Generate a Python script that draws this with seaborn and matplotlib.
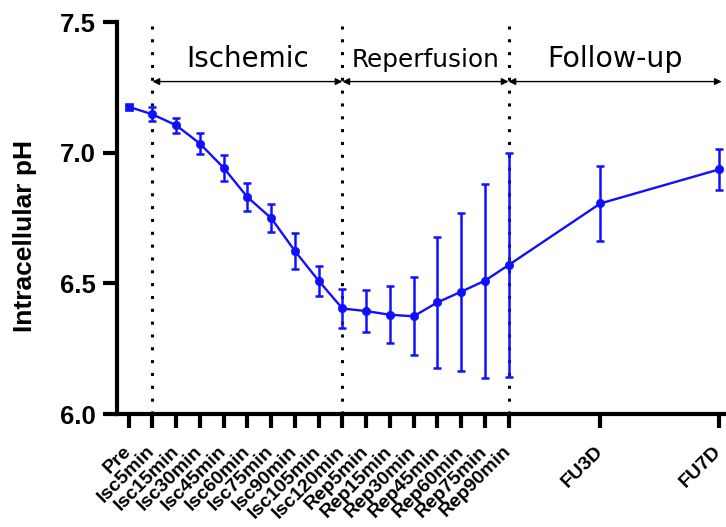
import numpy as np
import pandas as pd
import matplotlib
matplotlib.use('Agg')
import matplotlib.pyplot as plt
import seaborn as sns

# time points and measured values
labels = ['Pre', 'Isc5min', 'Isc15min', 'Isc30min', 'Isc45min', 'Isc60min', 'Isc75min',
          'Isc90min', 'Isc105min', 'Isc120min', 'Rep5min', 'Rep15min', 'Rep30min',
          'Rep45min', 'Rep60min', 'Rep75min', 'Rep90min', 'FU3D', 'FU7D']
xpos = [0, 1, 2, 3, 4, 5, 6, 7, 8, 9, 10, 11, 12, 13, 14, 15, 16, 19.87, 24.86]
ph = [7.176, 7.147, 7.105, 7.035, 6.942, 6.830, 6.750, 6.624, 6.510, 6.404,
      6.394, 6.380, 6.374, 6.427, 6.468, 6.510, 6.570, 6.806, 6.936]
err = [0.008, 0.027, 0.029, 0.041, 0.051, 0.053, 0.055, 0.070, 0.057, 0.075,
       0.080, 0.110, 0.150, 0.250, 0.303, 0.372, 0.430, 0.143, 0.079]

phases = ['Ischemic', 'Reperfusion', 'Follow-up']
phase_start = [1, 9, 16]
phase_end = [9, 16, 24.98]
phase_fs = [20, 17.8, 20.5]

df = pd.DataFrame({'x': xpos, 'ph': ph, 'err': err, 'label': labels})

sns.set_style('ticks', {'axes.edgecolor': 'black', 'xtick.color': 'black',
                        'ytick.color': 'black', 'text.color': 'black',
                        'axes.labelcolor': 'black'})
blue = '#1010ff'

fig = plt.figure(figsize=(7.26, 5.27), dpi=100)
ax = fig.add_axes([0.161, 0.2144, 0.836, 0.7436])

ax.errorbar(df['x'], df['ph'], yerr=df['err'], fmt='none', ecolor=blue,
            elinewidth=1.8, capsize=3, capthick=1.8, zorder=3)
sns.lineplot(data=df, x='x', y='ph', color=blue, lw=1.7, ax=ax, zorder=4)
sns.scatterplot(data=df.iloc[1:], x='x', y='ph', color=blue, s=36, marker='o',
                edgecolor=blue, ax=ax, zorder=5)
sns.scatterplot(data=df.iloc[:1], x='x', y='ph', color=blue, s=32, marker='s',
                edgecolor=blue, ax=ax, zorder=5)

# phase separators and arrows
for xv in phase_start:
    ax.axvline(xv, color='black', ls=(0, (1, 3.2)), lw=2.2, zorder=2)
for name, a, b, fs in zip(phases, phase_start, phase_end, phase_fs):
    ax.annotate('', xy=(a, 7.2725), xytext=(b, 7.2725),
                arrowprops=dict(arrowstyle='<|-|>', color='black', lw=1,
                                mutation_scale=10, shrinkA=0, shrinkB=0))
    ax.text((a + b) / 2, 7.33, name, ha='center', va='baseline', fontsize=fs,
            family='DejaVu Sans')

ax.set_xlim(-0.5, 25.07)
ax.set_ylim(6.0, 7.5)
ax.set_yticks([6.0, 6.5, 7.0, 7.5])
ax.set_yticklabels(['6.0', '6.5', '7.0', '7.5'], fontsize=18.5, fontweight='bold',
                   family='Liberation Sans')
ax.set_xticks(xpos)
ax.set_xticklabels(labels, rotation=45, ha='right', va='center', rotation_mode='anchor',
                   fontsize=14, fontweight='bold', family='Liberation Sans')
ax.set_xlabel('')
ax.set_ylabel('Intracellular pH', fontsize=19, fontweight='bold',
              family='Liberation Sans', va='center')
ax.yaxis.set_label_coords(-0.152, 0.454)

for s in ['top', 'right']:
    ax.spines[s].set_visible(False)
for s in ['left', 'bottom']:
    ax.spines[s].set_linewidth(3)
    ax.spines[s].set_color('black')
ax.tick_params(axis='both', width=3, length=10, color='black', labelcolor='black')
ax.tick_params(axis='x', pad=15)
ax.tick_params(axis='y', pad=5)

fig.savefig('out.png', dpi=100)
